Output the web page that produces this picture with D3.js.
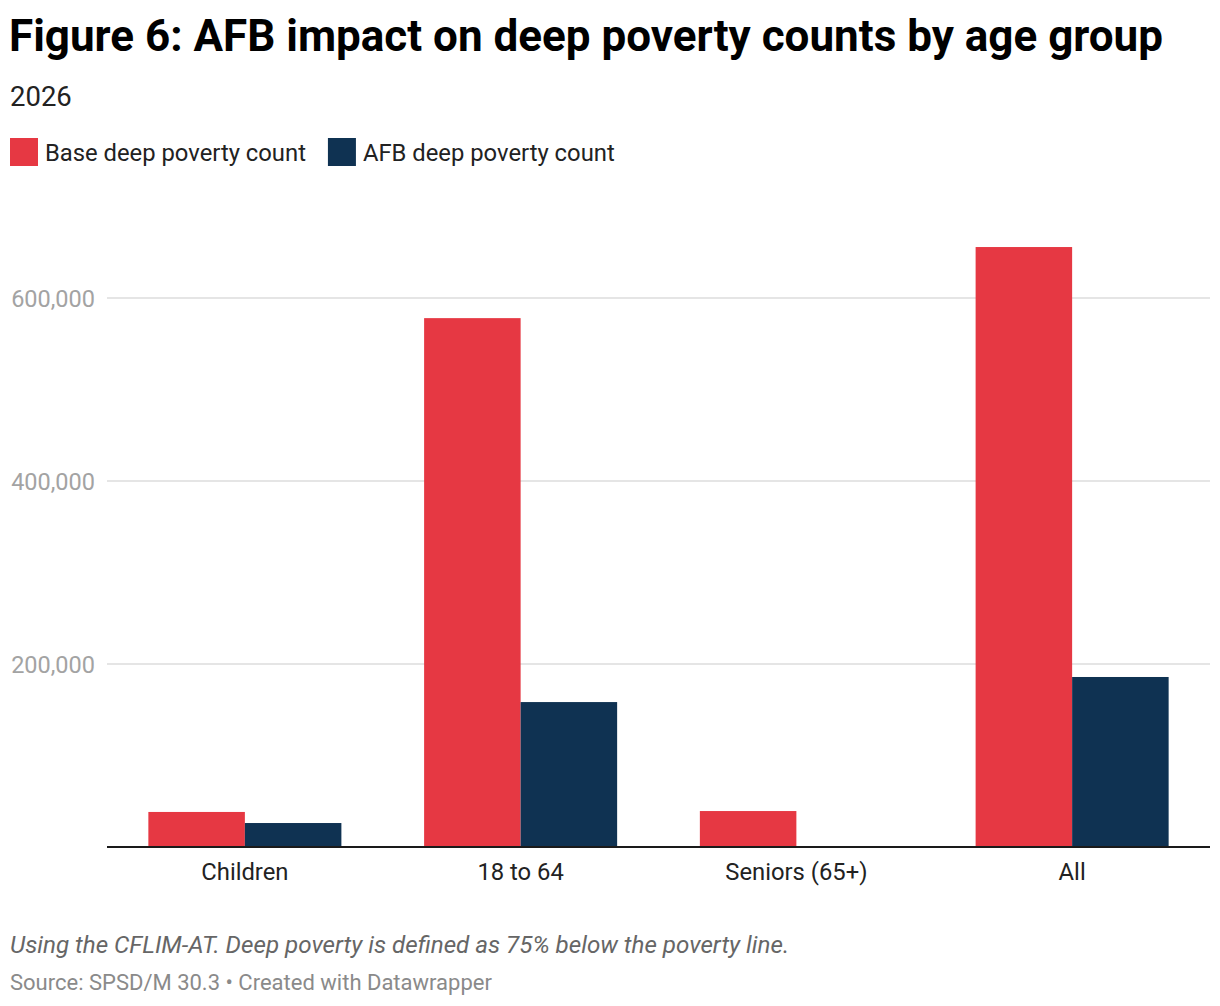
<!DOCTYPE html>
<html><head><meta charset="utf-8">
<script src="https://cdn.jsdelivr.net/npm/d3@7"></script>
<style>
body{margin:0;background:#fff;font-family:Roboto,"Noto Sans",sans-serif;}
</style></head>
<body><svg id="c" width="1220" height="1006"></svg>
<script>
const categories = ["Children","18 to 64","Seniors (65+)","All"];
const seriesNames = ["Base deep poverty count","AFB deep poverty count"];
const baseValues = [38300, 578000, 39300, 655700];
const afbValues = [26200, 158400, 0, 185800];
const yTicks = [200000, 400000, 600000];
const colors = ["#e63843","#0f3252"];

(function(){
const svg = d3.select("#c");
const left = 107, right = 1210, bottom = 847;

svg.append("text").attr("x",9).attr("y",51).attr("font-size",44).attr("font-weight",700)
  .attr("fill","#000").text("Figure 6: AFB impact on deep poverty counts by age group");
svg.append("text").attr("x",10).attr("y",106).attr("font-size",27.5).attr("fill","#222").text("2026");

// legend
const leg = svg.append("g");
let lx = 10;
seriesNames.forEach((s,i)=>{
  leg.append("rect").attr("x",lx).attr("y",138).attr("width",28).attr("height",28).attr("fill",colors[i]);
  const t = leg.append("text").attr("x",lx+35).attr("y",161).attr("font-size",23.8).attr("fill","#222").text(s);
  lx += 35 + t.node().getComputedTextLength() + 22;
});

const x0 = d3.scaleBand().domain(categories).range([left,right]).paddingInner(0.3).paddingOuter(0.15);
const x1 = d3.scaleBand().domain(seriesNames).range([0,x0.bandwidth()]);
const y = d3.scaleLinear().domain([0,600000]).range([bottom,bottom-549]);

const yAxis = d3.axisLeft(y).tickValues(yTicks).tickSize(0).tickFormat(d3.format(","));
const gy = svg.append("g").attr("transform",`translate(${left},0)`).call(yAxis);
gy.select(".domain").remove();
gy.selectAll("text").attr("x",-12).attr("dy","0.35em").attr("font-size",23.5).attr("font-family","Roboto").attr("fill","#a3a3a3");
svg.append("g").selectAll("line").data(yTicks).join("line")
  .attr("x1",left).attr("x2",right).attr("y1",d=>y(d)).attr("y2",d=>y(d))
  .attr("stroke","#e5e5e5").attr("stroke-width",2);

const data = categories.map((c,i)=>({cat:c, vals:[baseValues[i], afbValues[i]]}));
const groups = svg.append("g").selectAll("g").data(data).join("g")
  .attr("transform",d=>`translate(${x0(d.cat)},0)`);
groups.selectAll("rect").data(d=>d.vals.map((v,i)=>({s:seriesNames[i],v,i})).filter(e=>e.v>0)).join("rect")
  .attr("x",d=>x1(d.s)).attr("width",x1.bandwidth())
  .attr("y",d=>y(d.v)).attr("height",d=>y(0)-y(d.v)).attr("fill",d=>colors[d.i]);

const xAxis = d3.axisBottom(x0).tickSize(0);
const gx = svg.append("g").attr("transform",`translate(0,${bottom})`).call(xAxis);
gx.select(".domain").remove();
gx.selectAll("text").attr("y",16).attr("dy","0.71em").attr("font-size",23.8).attr("font-family","Roboto").attr("fill","#222");
svg.append("line").attr("x1",left).attr("x2",right).attr("y1",bottom).attr("y2",bottom)
  .attr("stroke","#1a1a1a").attr("stroke-width",2);

svg.append("text").attr("x",10).attr("y",953).attr("font-size",24.2).attr("font-style","italic").attr("fill","#666")
  .text("Using the CFLIM-AT. Deep poverty is defined as 75% below the poverty line.");
svg.append("text").attr("x",10).attr("y",990).attr("font-size",22).attr("fill","#8a8a8a")
  .text("Source: SPSD/M 30.3 • Created with Datawrapper");
})();
</script></body></html>
